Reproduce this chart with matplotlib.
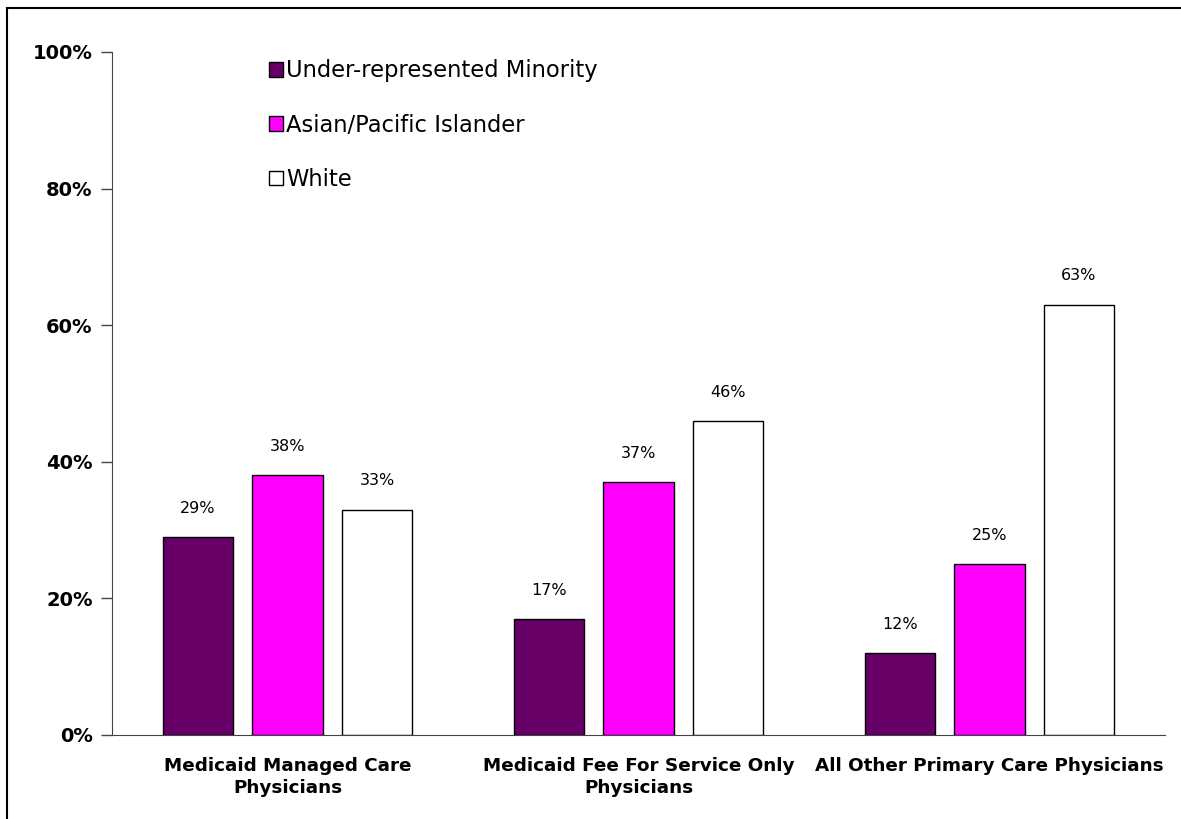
import matplotlib
matplotlib.use('Agg')
import matplotlib.pyplot as plt
from matplotlib.lines import Line2D
import numpy as np

# Chart data
categories = ["Medicaid Managed Care\nPhysicians",
              "Medicaid Fee For Service Only\nPhysicians",
              "All Other Primary Care Physicians"]
series_names = ["Under-represented Minority", "Asian/Pacific Islander", "White"]
urm_values = [29, 17, 12]
asian_values = [38, 37, 25]
white_values = [33, 46, 63]
yticks = [0, 20, 40, 60, 80, 100]

plt.rcParams['font.family'] = ['DejaVu Sans']

fig = plt.figure(figsize=(11.81, 8.19), dpi=100)
ax = fig.add_axes([0.0948, 0.1026, 0.8917, 0.834])

x = np.arange(len(categories))
width = 0.2
offset = 0.255
colors = ['#660066', '#FF00FF', '#FFFFFF']
all_values = [urm_values, asian_values, white_values]

for i, (name, vals, col) in enumerate(zip(series_names, all_values, colors)):
    bars = ax.bar(x + (i - 1) * offset, vals, width, color=col,
                  edgecolor='black', linewidth=1, label=name)
    for bar, v in zip(bars, vals):
        ax.text(bar.get_x() + bar.get_width() / 2, v + 3.1, f"{v}%",
                ha='center', va='bottom', fontsize=11.5)

ax.set_xlim(-0.5, 2.5)
ax.set_ylim(0, 100)
ax.set_yticks(yticks)
ax.set_yticklabels([f"{t}%" for t in yticks], fontsize=14, fontweight='bold')
ax.set_xticks(x)
ax.set_xticklabels(categories, fontsize=13.2, fontweight='bold', linespacing=1.25)
ax.tick_params(axis='x', length=0, pad=16)
ax.tick_params(axis='y', length=8, width=1, pad=6, color='#444444')

for side in ['top', 'right']:
    ax.spines[side].set_visible(False)
ax.spines['left'].set_color('#444444')
ax.spines['bottom'].set_color('#444444')

leg = ax.legend(loc='upper left', bbox_to_anchor=(0.13, 1.019), frameon=False,
                fontsize=16.3, handlelength=0.6, handleheight=0.6,
                handletextpad=0.15, labelspacing=1.38)

# outer frame around the slide
fig.add_artist(Line2D([7 / 1181, 7 / 1181], [0, 1 - 8 / 819], color='black', lw=1.5))
fig.add_artist(Line2D([7 / 1181, 1], [1 - 8 / 819, 1 - 8 / 819], color='black', lw=1.5))

fig.savefig('out.png', dpi=100)
